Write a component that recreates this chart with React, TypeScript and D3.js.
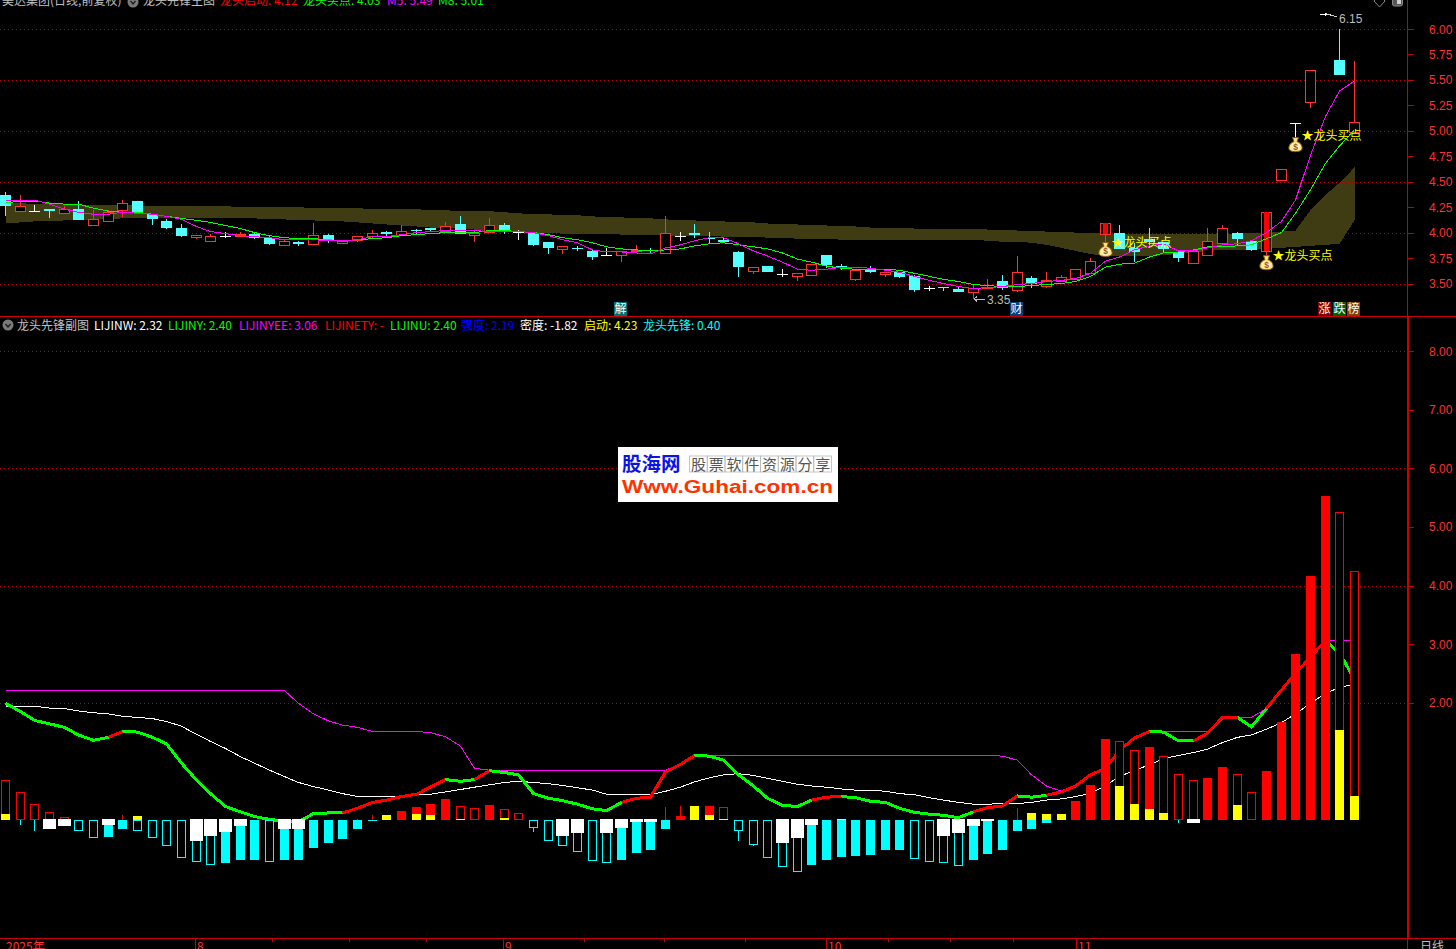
import React from "react";
import * as d3 from "d3";

// ---------- Upper panel: daily candles ----------
const opens = [4.37,4.21,4.21,4.23,4.19,4.23,4.07,4.11,4.22,4.31,4.18,4.11,4.05,3.96,3.92,3.97,3.97,3.99,3.95,3.88,3.91,3.89,3.98,3.90,3.93,3.97,4.01,3.98,4.03,4.05,4.02,4.08,3.98,4.01,4.07,4.01,4.00,3.91,3.84,3.85,3.82,3.78,3.78,3.82,3.83,3.80,3.97,4.00,3.95,3.93,3.81,3.62,3.67,3.59,3.57,3.58,3.78,3.67,3.54,3.63,3.59,3.61,3.57,3.46,3.47,3.45,3.42,3.46,3.52,3.44,3.55,3.48,3.52,3.54,3.60,3.99,4.00,3.85,3.94,3.91,3.81,3.70,3.78,3.90,4.00,3.92,3.82,4.52,5.08,5.28,6.15,5.70,4.99];
const closes = [4.26,4.26,4.21,4.21,4.23,4.12,4.13,4.20,4.29,4.20,4.13,4.05,3.97,3.98,3.97,3.97,3.99,3.95,3.89,3.92,3.89,3.98,3.92,3.92,3.97,4.00,3.99,4.02,4.02,4.03,4.06,3.99,4.00,4.07,4.02,4.01,3.88,3.85,3.87,3.84,3.76,3.78,3.82,3.83,3.82,4.00,3.97,3.98,3.94,3.91,3.66,3.66,3.61,3.59,3.60,3.69,3.68,3.66,3.63,3.61,3.61,3.56,3.44,3.46,3.46,3.42,3.46,3.47,3.46,3.61,3.50,3.53,3.56,3.64,3.72,4.09,3.84,3.81,3.91,3.84,3.75,3.82,3.92,4.05,3.94,3.83,4.20,4.62,5.08,5.60,6.15,5.55,5.09];
const highs = [4.40,4.37,4.27,4.23,4.26,4.31,4.22,4.22,4.32,4.31,4.18,4.13,4.08,3.98,3.99,4.01,4.01,4.01,3.97,3.94,3.92,4.09,3.99,3.92,3.97,4.03,4.02,4.07,4.04,4.05,4.10,4.16,4.02,4.14,4.09,4.03,4.00,3.91,3.87,3.87,3.83,3.85,3.82,3.88,3.85,4.16,4.01,4.08,4.01,3.95,3.82,3.66,3.67,3.64,3.60,3.69,3.78,3.69,3.63,3.67,3.61,3.61,3.58,3.48,3.47,3.48,3.50,3.54,3.58,3.77,3.57,3.61,3.58,3.64,3.75,4.09,4.07,3.90,4.05,3.91,3.82,3.82,4.05,4.07,4.01,3.93,4.20,4.62,5.08,5.60,6.16,6.00,5.69];
const lows = [4.16,4.20,4.20,4.14,4.18,4.12,4.07,4.11,4.15,4.20,4.07,4.04,3.96,3.94,3.92,3.95,3.97,3.94,3.88,3.87,3.87,3.89,3.90,3.90,3.91,3.94,3.96,3.98,3.98,4.01,4.00,3.99,3.91,4.01,3.99,3.93,3.87,3.79,3.79,3.82,3.73,3.77,3.71,3.82,3.80,3.80,3.92,3.95,3.89,3.90,3.56,3.59,3.61,3.56,3.52,3.57,3.65,3.63,3.52,3.60,3.56,3.55,3.42,3.43,3.43,3.42,3.35,3.46,3.44,3.42,3.46,3.46,3.52,3.54,3.60,3.89,3.84,3.71,3.86,3.80,3.71,3.70,3.78,3.90,3.88,3.82,3.75,4.52,4.94,5.22,6.13,5.55,4.99];
const solidBodyDays = [75, 86];

const m5 = [4.32,4.32,4.32,4.28,4.23,4.20,4.18,4.18,4.20,4.19,4.18,4.16,4.13,4.06,4.01,3.99,3.97,3.96,3.95,3.93,3.93,3.93,3.92,3.92,3.93,3.96,3.96,3.98,4.00,4.01,4.02,4.02,4.02,4.01,4.01,4.01,4.00,3.97,3.93,3.90,3.83,3.81,3.81,3.80,3.79,3.85,3.88,3.92,3.95,3.95,3.89,3.82,3.77,3.71,3.64,3.63,3.64,3.66,3.66,3.65,3.63,3.61,3.57,3.53,3.50,3.47,3.45,3.46,3.47,3.49,3.50,3.52,3.53,3.55,3.60,3.72,3.76,3.83,3.87,3.89,3.82,3.82,3.85,3.88,3.89,3.92,4.00,4.11,4.32,4.76,5.14,5.39,5.49];
const m8 = [4.29,4.31,4.31,4.29,4.28,4.28,4.24,4.21,4.20,4.20,4.18,4.16,4.14,4.12,4.10,4.07,4.04,4.00,3.97,3.95,3.94,3.94,3.93,3.92,3.93,3.94,3.95,3.97,3.98,3.99,4.00,4.00,4.00,4.02,4.02,4.01,4.00,3.98,3.95,3.93,3.90,3.86,3.84,3.83,3.82,3.83,3.84,3.87,3.89,3.90,3.88,3.86,3.84,3.80,3.74,3.71,3.67,3.65,3.64,3.64,3.64,3.63,3.60,3.57,3.54,3.52,3.49,3.48,3.47,3.47,3.48,3.49,3.50,3.52,3.57,3.66,3.69,3.70,3.76,3.80,3.81,3.83,3.86,3.86,3.87,3.88,3.94,4.00,4.19,4.42,4.68,4.85,5.01];
const bandTop = [4.29,4.29,4.28,4.28,4.28,4.27,4.27,4.27,4.27,4.27,4.26,4.26,4.26,4.26,4.26,4.26,4.25,4.25,4.25,4.25,4.25,4.24,4.24,4.24,4.24,4.23,4.23,4.23,4.23,4.22,4.22,4.21,4.21,4.21,4.20,4.19,4.18,4.18,4.17,4.17,4.16,4.15,4.15,4.14,4.14,4.13,4.12,4.12,4.11,4.11,4.10,4.10,4.09,4.08,4.08,4.07,4.07,4.06,4.06,4.05,4.05,4.05,4.04,4.04,4.04,4.04,4.04,4.03,4.03,4.02,4.02,4.01,4.01,4.00,4.00,3.99,3.99,3.99,3.99,3.99,3.99,3.99,3.99,3.99,3.99,4.00,4.00,4.01,4.02,4.22,4.37,4.49,4.64];
const bandBottom = [4.09,4.10,4.11,4.11,4.12,4.12,4.13,4.13,4.14,4.14,4.14,4.14,4.14,4.14,4.14,4.14,4.14,4.14,4.13,4.13,4.12,4.12,4.11,4.11,4.10,4.09,4.08,4.07,4.06,4.05,4.05,4.04,4.03,4.01,4.01,4.00,4.00,4.00,3.99,3.99,3.99,3.99,3.98,3.98,3.98,3.97,3.97,3.97,3.97,3.96,3.96,3.96,3.95,3.95,3.94,3.94,3.94,3.93,3.93,3.93,3.93,3.93,3.93,3.93,3.93,3.93,3.93,3.92,3.91,3.91,3.90,3.88,3.85,3.82,3.79,3.77,3.77,3.77,3.77,3.78,3.79,3.80,3.82,3.83,3.83,3.83,3.84,3.85,3.86,3.87,3.88,3.89,4.12];

const priceTicks = [6,5.75,5.5,5.25,5,4.75,4.5,4.25,4,3.75,3.5];
const priceGrid = [6,5.5,5,4.5,4,3.5];

// ---------- Lower panel: indicator ----------
const barValues = [.68,.48,.27,.14,.05,-.18,-.31,-.29,-.15,-.18,-.30,-.45,-.64,-.72,-.76,-.74,-.69,-.68,-.72,-.69,-.68,-.47,-.40,-.32,-.16,-.01,0,.16,.23,.28,.35,.24,.21,.26,.19,.12,-.14,-.35,-.45,-.55,-.70,-.74,-.68,-.57,-.52,-.15,.06,0,.24,.23,-.18,-.43,-.65,-.81,-.88,-.76,-.68,-.63,-.61,-.59,-.52,-.52,-.67,-.72,-.74,-.78,-.68,-.58,-.51,-.19,-.15,-.05,0,.32,.60,1.38,1.34,1.20,1.24,1.09,.78,.68,.72,.90,.78,.47,.84,1.67,2.83,4.16,5.52,5.25,4.24];
const hollowBars = [0,1,2,3,4,5,6,9,10,11,12,13,14,18,25,31,32,34,35,36,37,38,39,40,41,49,50,51,52,53,54,62,63,64,65,76,77,79,80,81,84,85,91,92];
const yellowBars: [number, number][] = [[0,.10],[9,.07],[26,.09],[28,.10],[29,.09],[31,.01],[34,.03],[47,.24],[48,.09],[49,.01],[57,.02],[70,.12],[71,.10],[72,.10],[76,.58],[77,.27],[78,.19],[79,.12],[84,.26],[91,1.53],[92,.41]];
const whiteBars: [number, number][] = [[3,-.16],[4,-.11],[7,-.08],[13,-.35],[14,-.28],[15,-.20],[16,-.11],[19,-.15],[20,-.15],[38,-.27],[39,-.23],[41,-.23],[42,-.13],[43,-.03],[44,-.03],[53,-.40],[54,-.30],[55,-.08],[64,-.28],[65,-.23],[66,-.10],[67,-.02],[81,-.05]];
const barWicks: [number, number][] = [[1,-.08],[2,-.18],[8,.09],[24,.02],[25,.09],[36,-.20],[45,.23],[46,.24],[50,-.35],[51,-.45],[69,.20],[80,-.05]];

const lijinY = [1.99,1.85,1.70,1.64,1.58,1.45,1.36,1.41,1.51,1.50,1.41,1.30,.97,.68,.45,.23,.14,.06,.01,-.02,-.03,.11,.12,.12,.20,.30,.34,.40,.44,.56,.69,.66,.69,.84,.81,.77,.45,.37,.33,.27,.19,.16,.30,.37,.39,.82,.95,1.10,1.09,1.02,.77,.58,.37,.25,.23,.34,.39,.40,.38,.32,.30,.20,.13,.10,.08,.04,.14,.21,.24,.41,.39,.42,.48,.58,.77,.88,1.19,1.40,1.51,1.50,1.35,1.35,1.48,1.75,1.75,1.59,1.90,2.22,2.50,2.78,3.06,2.85,2.40];
const lijinRedRuns: [number, number][] = [[7,8],[23,30],[32,33],[42,47],[55,57],[66,69],[71,78],[81,84],[86,90]];
const lijinW = [1.94,1.94,1.94,1.91,1.90,1.86,1.83,1.81,1.77,1.75,1.73,1.68,1.60,1.46,1.34,1.22,1.08,.97,.85,.74,.64,.57,.51,.45,.40,.40,.40,.40,.43,.44,.48,.52,.56,.60,.64,.66,.64,.62,.59,.55,.51,.44,.43,.43,.43,.49,.56,.65,.72,.77,.79,.76,.71,.66,.61,.58,.56,.53,.51,.51,.49,.45,.43,.38,.34,.30,.27,.27,.28,.28,.30,.34,.36,.40,.45,.59,.74,.85,.94,1.05,1.10,1.15,1.21,1.32,1.41,1.45,1.55,1.66,1.81,1.99,2.16,2.26,2.32];
const lijinYee = [2.21,2.21,2.21,2.21,2.21,2.21,2.21,2.21,2.21,2.21,2.21,2.21,2.21,2.21,2.21,2.21,2.21,2.21,2.21,2.21,1.99,1.81,1.69,1.62,1.58,1.51,1.51,1.51,1.51,1.49,1.42,1.26,.88,.85,.85,.85,.85,.85,.85,.85,.85,.85,.85,.85,.85,.85,.95,1.10,1.10,1.10,1.10,1.10,1.10,1.10,1.10,1.10,1.10,1.10,1.10,1.10,1.10,1.10,1.10,1.10,1.10,1.10,1.10,1.10,1.09,1.02,.77,.58,.49,.58,.77,.88,1.19,1.40,1.51,1.51,1.51,1.51,1.51,1.75,1.75,1.75,1.90,2.22,2.50,2.78,3.06,3.06,3.06];

const indicatorTicks = [8,7,6,5,4,3,2];
const indicatorGrid = [8,6,4,2];

// ---------- Text ----------
const upperLegend: [string, string, number][] = [
  ["美达集团(日线,前复权)", "#c0c0c0", 2],
  ["龙头先锋主图", "#c0c0c0", 143],
  ["龙头启动: 4.12", "#ff0000", 220],
  ["龙头买点: 4.03", "#00ff00", 303],
  ["M5: 5.49", "#ff00ff", 387],
  ["M8: 5.01", "#00ff00", 438],
];
const lowerLegend: [string, string, number][] = [
  ["龙头先锋副图", "#c0c0c0", 17],
  ["LIJINW: 2.32", "#ffffff", 94],
  ["LIJINY: 2.40", "#00ff00", 168],
  ["LIJINYEE: 3.06", "#ff00ff", 239],
  ["LIJINETY: -", "#ff0000", 325],
  ["LIJINU: 2.40", "#00ff00", 390],
  ["强度: 2.19", "#0000ff", 461],
  ["密度: -1.82", "#ffffff", 520],
  ["启动: 4.23", "#ffff00", 584],
  ["龙头先锋: 0.40", "#00ffff", 643],
];
const buySignals: [number, number, number][] = [[75, 3.83, 242], [86, 3.70, 255], [88, 4.86, 135]];
const eventTags: [string, string, number][] = [
  ["解", "#007070", 614], ["财", "#004080", 1010], ["涨", "#800000", 1318], ["跌", "#006000", 1333], ["榜", "#804000", 1347],
];
const monthLabels: [string, number, number][] = [["2025年", 6, 0], ["8", 197, 195], ["9", 505, 503], ["10", 828, 826], ["11", 1078, 1076]];
const minorTicks = [272, 349, 426, 584, 664, 745, 888, 950, 1013];
const logoCells = ["股", "票", "软", "件", "资", "源", "分", "享"];

const W = 1456, H = 949;
const RED_AXIS = "#ff3232", FRAME = "#c80000", GRID = "#c00000";
const CJK = "'Noto Sans CJK SC', 'Noto Sans', sans-serif";
const NUM = "'Liberation Sans', Arial, sans-serif";

const x = d3.scaleLinear().domain([0, 92]).range([5, 1354]);
const yP = d3.scaleLinear().domain([3.5, 6]).range([283.5, 29]);
const yI = d3.scaleLinear().domain([0, 8]).range([820, 351]);
const cx = (i: number) => Math.round(x(i));

function lineOf(values: number[], y: (v: number) => number, from = 0, to = values.length - 1) {
  const idx = d3.range(from, to + 1);
  return d3.line<number>().x((i) => cx(i) + 0.5).y((i) => y(values[i]))(idx) as string;
}

const MoneyBag = ({ cx: a, cy: b }: { cx: number; cy: number }) => (
  <g>
    <path d={`M${a - 3},${b - 7.5} L${a + 3},${b - 7.5} L${a + 1.5},${b - 3.5} C${a + 6},${b - 2} ${a + 7},${b + 2} ${a + 6.5},${b + 4} C${a + 6},${b + 7.5} ${a - 6},${b + 7.5} ${a - 6.5},${b + 4} C${a - 7},${b + 2} ${a - 6},${b - 2} ${a - 1.5},${b - 3.5} Z`} fill="#ffe27a" stroke="#8a5a10" strokeWidth={1} />
    <ellipse cx={a} cy={b + 1.5} rx={4.2} ry={3.6} fill="#fff6c8" />
    <text x={a} y={b + 4.5} textAnchor="middle" fontFamily={NUM} fontWeight={700} fontSize={8.5} fill="#a05010">$</text>
  </g>
);

const MenuDot = ({ a, b }: { a: number; b: number }) => (
  <g>
    <circle cx={a} cy={b} r={5.5} fill="#7a7a7a" />
    <path d={`M${a - 2.5},${b - 1} L${a},${b + 2} L${a + 2.5},${b - 1}`} fill="none" stroke="#1a1a1a" strokeWidth={1.3} />
  </g>
);

export default function App() {
  const crisp = "crispEdges" as const;
  const area = d3.area<number>().x((i) => cx(i) + 0.5).y0((i) => yP(bandBottom[i])).y1((i) => yP(bandTop[i]))(d3.range(93)) as string;

  return (
    <svg width={W} height={H} viewBox={`0 0 ${W} ${H}`} style={{ position: "fixed", left: 0, top: 0, background: "#000", display: "block" }}>
      <rect width={W} height={H} fill="#000" />

      {/* upper panel */}
      <path d={area} fill="#3f3c14" shapeRendering={crisp} />
      {priceGrid.map((p) => (
        <line key={p} x1={0} x2={1414} y1={Math.round(yP(p)) + 0.5} y2={Math.round(yP(p)) + 0.5} stroke={GRID} strokeDasharray="1 3" shapeRendering={crisp} />
      ))}
      {opens.map((o, i) => {
        const c = closes[i];
        const up = c > o, flat = c === o;
        const col = flat ? "#ffffff" : up ? "#ff3232" : "#54ffff";
        const top = Math.round(yP(Math.max(o, c))), bot = Math.round(yP(Math.min(o, c)));
        const mx = cx(i);
        return (
          <g key={i} shapeRendering={crisp}>
            <line x1={mx + 0.5} x2={mx + 0.5} y1={yP(highs[i])} y2={yP(lows[i])} stroke={col} />
            {flat ? (
              <line x1={mx - 5} x2={mx + 6} y1={top + 0.5} y2={top + 0.5} stroke={col} />
            ) : up ? (
              <rect x={mx - 4.5} y={top + 0.5} width={10} height={Math.max(bot - top, 1)} fill="#000" stroke={col} />
            ) : (
              <rect x={mx - 5} y={top} width={11} height={Math.max(bot - top, 1)} fill={col} />
            )}
            {solidBodyDays.includes(i) && <rect x={mx - 2} y={top} width={5} height={bot - top} fill="#ff0000" />}
          </g>
        );
      })}
      <path d={lineOf(m8, yP)} fill="none" stroke="#00ff00" shapeRendering={crisp} />
      <path d={lineOf(m5, yP)} fill="none" stroke="#ff00ff" shapeRendering={crisp} />

      {/* price axis */}
      {priceTicks.map((p) => (
        <g key={p}>
          <line x1={1408} x2={1414} y1={Math.round(yP(p)) + 0.5} y2={Math.round(yP(p)) + 0.5} stroke={FRAME} shapeRendering={crisp} />
          <text x={1429} y={yP(p) + 4.5} fontFamily={NUM} fontSize={12} fill={RED_AXIS}>{p.toFixed(2)}</text>
        </g>
      ))}

      {/* annotations */}
      {buySignals.map(([i, p, ty]) => (
        <g key={i}>
          <MoneyBag cx={cx(i) + 0.5} cy={yP(p)} />
          <text x={cx(i) + 6.5} y={ty + 4.5} fontFamily={CJK} fontSize={12} fill="#ffff00">★龙头买点</text>
        </g>
      ))}
      <path d="M974,299 L985,299 M977,296.5 L974,299 L977,301.5" fill="none" stroke="#bcbcbc" shapeRendering={crisp} />
      <text x={987} y={303.5} fontFamily={NUM} fontSize={12} fill="#bcbcbc">3.35</text>
      <path d={`M${cx(90) + 1},${yP(6.15)} L1337,17`} fill="none" stroke="#d0d0d0" shapeRendering={crisp} />
      <text x={1339} y={22.5} fontFamily={NUM} fontSize={12} fill="#bcbcbc">6.15</text>
      {eventTags.map(([t, bg, tx]) => (
        <g key={t}>
          <rect x={tx} y={302} width={13} height={14} fill={bg} />
          <text x={tx + 0.5} y={313} fontFamily={CJK} fontSize={12} fill="#ffffff">{t}</text>
        </g>
      ))}

      {/* upper legend */}
      {upperLegend.map(([t, col, tx]) => (
        <text key={t} x={tx} y={5} fontFamily={CJK} fontSize={12} fill={col}>{t}</text>
      ))}
      <MenuDot a={133} b={2} />
      <path d="M1374,1 L1379.5,7 L1385,1 L1379.5,-5 Z" fill="none" stroke="#8a8a8a" />
      <rect x={1392.5} y={-4} width={10} height={10} rx={2} fill="#555" stroke="#8a8a8a" />
      <rect x={1397} y={-3} width={4} height={7} fill="#cfcfcf" />

      {/* lower panel */}
      {indicatorGrid.map((v) => (
        <line key={v} x1={0} x2={1414} y1={Math.round(yI(v)) + 0.5} y2={Math.round(yI(v)) + 0.5} stroke={GRID} strokeDasharray="1 3" shapeRendering={crisp} />
      ))}
      <path d={lineOf(lijinYee, yI)} fill="none" stroke="#ff00ff" shapeRendering={crisp} />
      <path d={lineOf(lijinW, yI)} fill="none" stroke="#ffffff" shapeRendering={crisp} />
      <path d={lineOf(lijinY, yI)} fill="none" stroke="#00ff00" strokeWidth={3} shapeRendering={crisp} />
      {lijinRedRuns.map(([a, b]) => (
        <path key={a} d={lineOf(lijinY, yI, a, b)} fill="none" stroke="#ff0000" strokeWidth={3} shapeRendering={crisp} />
      ))}
      <g shapeRendering={crisp}>
        {barWicks.map(([i, v]) => (
          <line key={i} x1={cx(i) + 0.5} x2={cx(i) + 0.5} y1={yI(0)} y2={yI(v)} stroke={v > 0 ? "#ff0000" : "#00ffff"} />
        ))}
        {barValues.map((v, i) => {
          if (v === 0) return null;
          const col = v > 0 ? "#ff0000" : "#00ffff";
          const top = Math.round(yI(Math.max(v, 0))), bot = Math.round(yI(Math.min(v, 0)));
          const mx = cx(i);
          return (
            <g key={i}>
              <rect x={mx - 4} y={top} width={9} height={bot - top} fill={col} />
              {hollowBars.includes(i) && bot - top > 2 && <rect x={mx - 3} y={top + 1} width={7} height={bot - top - 2} fill="#000" />}
            </g>
          );
        })}
        {yellowBars.map(([i, v]) => (
          <rect key={i} x={cx(i) - 4} y={yI(v)} width={9} height={yI(0) - yI(v)} fill="#ffff00" />
        ))}
        {whiteBars.map(([i, v]) => (
          <rect key={i} x={cx(i) - 6} y={yI(0) - 1} width={13} height={yI(v) - yI(0) + 1} fill="#ffffff" />
        ))}
      </g>
      {indicatorTicks.map((v) => (
        <g key={v}>
          <line x1={1408} x2={1414} y1={Math.round(yI(v)) + 0.5} y2={Math.round(yI(v)) + 0.5} stroke={FRAME} shapeRendering={crisp} />
          <text x={1429} y={yI(v) + 4.5} fontFamily={NUM} fontSize={12} fill={RED_AXIS}>{v.toFixed(2)}</text>
        </g>
      ))}

      {/* lower legend */}
      <MenuDot a={8} b={325} />
      {lowerLegend.map(([t, col, tx]) => (
        <text key={t} x={tx} y={329.5} fontFamily={CJK} fontSize={12} fill={col}>{t}</text>
      ))}

      {/* frame */}
      <g shapeRendering={crisp}>
        <rect x={0} y={316} width={W} height={1} fill={FRAME} />
        <rect x={0} y={938} width={W} height={1} fill={FRAME} />
        <rect x={1407} y={0} width={1} height={H} fill={FRAME} />
        <rect x={1407} y={316} width={2} height={622} fill={FRAME} />
        {monthLabels.filter((m) => m[2] > 0).map(([t, , tx]) => (
          <line key={t} x1={tx + 0.5} x2={tx + 0.5} y1={938} y2={H} stroke={FRAME} />
        ))}
        {minorTicks.map((tx) => (
          <line key={tx} x1={tx + 0.5} x2={tx + 0.5} y1={938} y2={942} stroke={FRAME} />
        ))}
      </g>
      {monthLabels.map(([t, tx]) => (
        <text key={t} x={tx} y={951} fontFamily={CJK} fontSize={12} fill={RED_AXIS}>{t}</text>
      ))}
      <text x={1420} y={951} fontFamily={CJK} fontSize={12} fill="#c0c0c0">日线</text>

      {/* logo */}
      <rect x={618} y={447} width={220} height={55} fill="#ffffff" />
      <text x={622} y={471} fontFamily={CJK} fontWeight={700} fontSize={19.5} fill="#0a14e6">股海网</text>
      {logoCells.map((t, i) => (
        <g key={t}>
          <rect x={689.5 + i * 17.75} y={456} width={17.75} height={16} fill="none" stroke="#b8b8b8" strokeWidth={0.8} />
          <text x={689.5 + i * 17.75 + 8.9} y={469.5} textAnchor="middle" fontFamily={CJK} fontSize={15} fill="#555">{t}</text>
        </g>
      ))}
      <text x={622} y={493} fontFamily={NUM} fontWeight={700} fontSize={18} fill="#ff3300" textLength={211} lengthAdjust="spacingAndGlyphs">Www.Guhai.com.cn</text>
    </svg>
  );
}
